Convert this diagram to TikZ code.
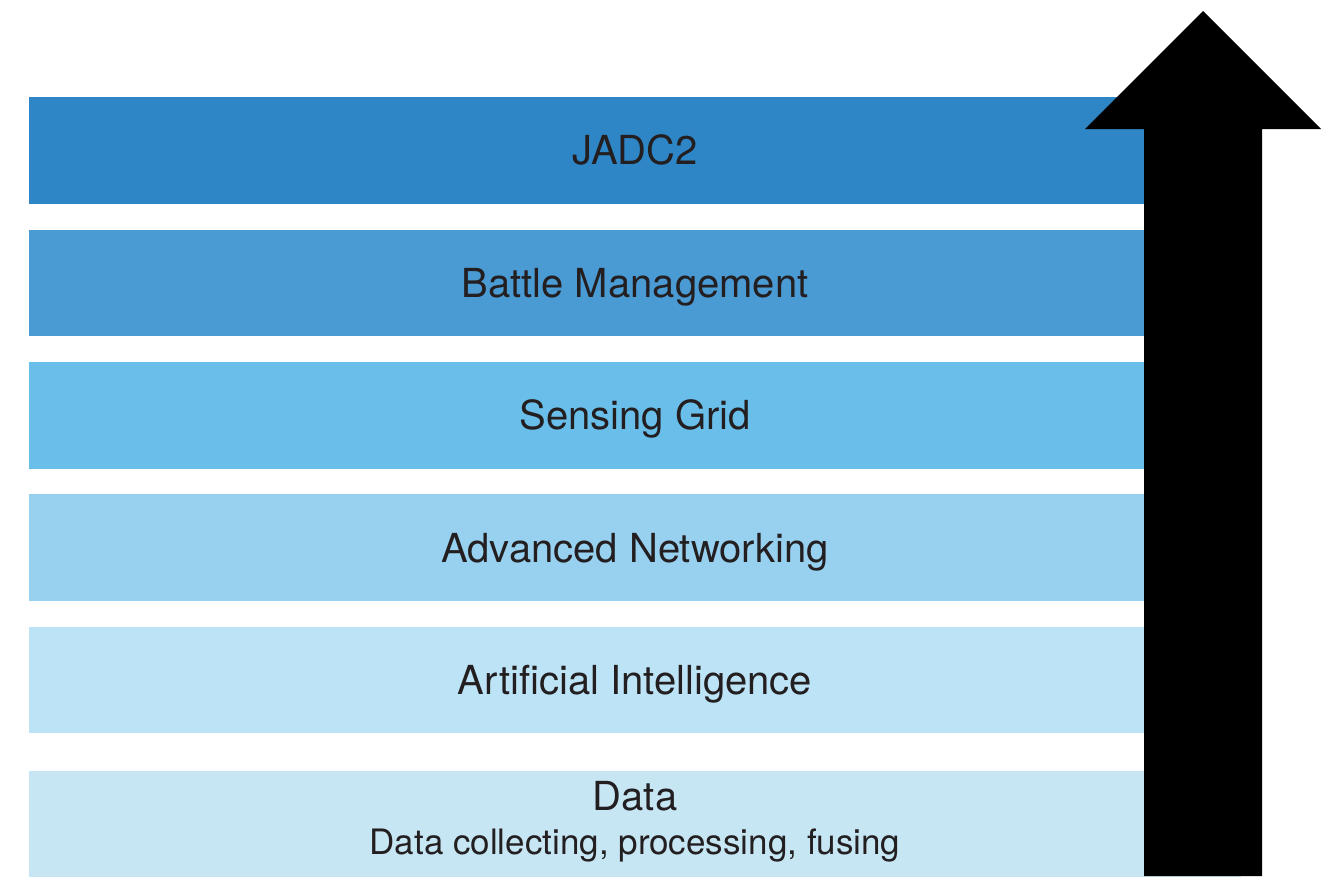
\documentclass[tikz,border=0pt]{standalone}
\usepackage{fontspec}
\setmainfont{TeX Gyre Heros}
\usetikzlibrary{positioning}
\usepackage{xcolor}

\definecolor{layerA}{HTML}{2E86C6}
\definecolor{layerB}{HTML}{4A9AD4}
\definecolor{layerC}{HTML}{6ABEEA}
\definecolor{layerD}{HTML}{98D0F0}
\definecolor{layerE}{HTML}{BDE3F7}
\definecolor{layerF}{HTML}{C6E6F3}
\definecolor{ink}{HTML}{231F20}

\tikzset{
    layer/.style={rectangle, minimum width=1212pt, minimum height=106.5pt,
        inner sep=0pt, text=ink, text height=28.6pt, text depth=0pt,
        font=\fontsize{40}{44}\selectfont},
}

\begin{document}
\begin{tikzpicture}[x=1pt, y=1pt]
        \useasboundingbox (0,0) rectangle (1332,-876);

        % Draw the layers, top to bottom
        \node[layer, fill=layerA]                        (jadc2)  at (635,-150.5) {JADC2};
        \node[layer, fill=layerB, below=25.5pt of jadc2]  (battle) {Battle Management};
        \node[layer, fill=layerC, below=25.5pt of battle] (sense)  {Sensing Grid};
        \node[layer, fill=layerD, below=25.5pt of sense]  (net)    {Advanced Networking};
        \node[layer, fill=layerE, below=25.5pt of net]    (ai)     {Artificial Intelligence};
        \node[layer, fill=layerF, below=37.5pt of ai, align=center,
              text height=, text depth=13.5pt]           (data)
            {Data\\{\fontsize{35}{44}\selectfont Data collecting, processing, fusing}};

        % The big arrow on the right
        \fill[black] (1144,-876) -- (1144,-129) -- (1085,-129) -- (1203,-11)
            -- (1321,-129) -- (1262,-129) -- (1262,-876) -- cycle;
\end{tikzpicture}
\end{document}
